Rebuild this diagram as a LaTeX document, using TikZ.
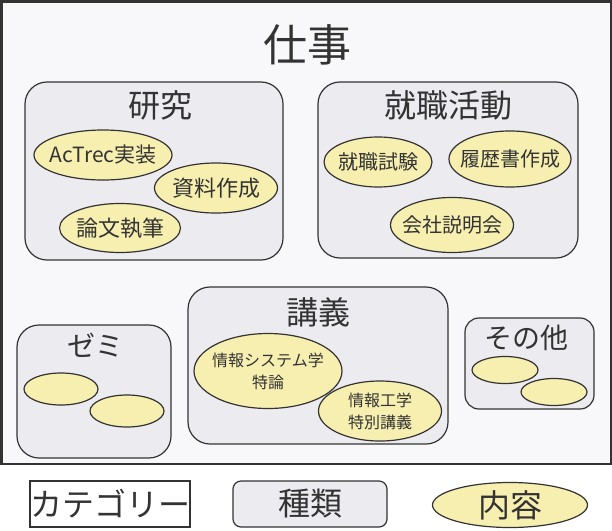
\documentclass[tikz,border=0pt]{standalone}
\usepackage{fontspec}
\setmainfont{Noto Sans CJK JP}
\usetikzlibrary{shapes.geometric}
\definecolor{ink}{HTML}{333333}
\definecolor{outerfill}{HTML}{F8F8FA}
\definecolor{boxfill}{HTML}{ECECF0}
\definecolor{ellfill}{HTML}{F7EFB0}
\tikzset{
  outerbox/.style={draw=ink, line width=2.5pt, fill=outerfill},
  kindbox/.style={draw=ink, line width=1.2pt, fill=boxfill, rounded corners=22pt},
  item/.style={ellipse, draw=ink, line width=1.2pt, fill=ellfill, inner sep=0pt},
  itemtext/.style={text=ink, inner sep=0pt, align=center},
  ttl/.style={text=ink, inner sep=0pt},
}
\begin{document}
\begin{tikzpicture}[x=1pt,y=-1pt]
\useasboundingbox (0,0) rectangle (612,530);
\fill[white] (0,0) rectangle (612,530);
% outer category box
\draw[outerbox] (1.25,1.25) rectangle (610.75,464);
\node[ttl, font=\fontsize{44}{48}\selectfont] (shigoto) at (307,45) {仕事};

% 研究
\draw[kindbox] (25,82) rectangle (283,260);
\node[ttl, font=\fontsize{32}{36}\selectfont] (kenkyu) at (160,105) {研究};
\node[item, minimum width=138pt, minimum height=50pt] (actrec) at (103,155) {};
\node[itemtext, font=\fontsize{21}{24}\selectfont] at (actrec) {AcTrec実装};
\node[item, minimum width=123pt, minimum height=50pt] (shiryo) at (216,188) {};
\node[itemtext, font=\fontsize{22}{24}\selectfont] at (shiryo) {資料作成};
\node[item, minimum width=121pt, minimum height=49pt] (ronbun) at (120,228) {};
\node[itemtext, font=\fontsize{22}{24}\selectfont] at (ronbun) {論文執筆};

% 就職活動
\draw[kindbox] (318,82) rectangle (578,258);
\node[ttl, font=\fontsize{32}{36}\selectfont] (shushoku) at (448,105) {就職活動};
\node[item, minimum width=108pt, minimum height=50pt] (shiken) at (378,162) {};
\node[itemtext, font=\fontsize{20}{24}\selectfont] at (shiken) {就職試験};
\node[item, minimum width=122pt, minimum height=56pt] (rireki) at (510,159) {};
\node[itemtext, font=\fontsize{20}{24}\selectfont] at (rireki) {履歴書作成};
\node[item, minimum width=123pt, minimum height=55pt] (setsumei) at (452,225) {};
\node[itemtext, font=\fontsize{20}{24}\selectfont] at (setsumei) {会社説明会};

% 講義
\draw[kindbox] (188,287) rectangle (448,444);
\node[ttl, font=\fontsize{32}{36}\selectfont] (kogi) at (318,312) {講義};
\node[item, minimum width=148pt, minimum height=75pt] (joho1) at (268,371) {};
\node[itemtext, font=\fontsize{16}{22}\selectfont] at (joho1) {情報システム学\\特論};
\node[item, minimum width=123pt, minimum height=60pt] (joho2) at (380,411) {};
\node[itemtext, font=\fontsize{16}{22}\selectfont] at (joho2) {情報工学\\特別講義};

% ゼミ
\draw[kindbox] (17,325) rectangle (171,458);
\node[ttl, font=\fontsize{28}{32}\selectfont] (zemi) at (95,345) {ゼミ};
\node[item, minimum width=74pt, minimum height=32pt] (z1) at (61,389) {};
\node[item, minimum width=74pt, minimum height=32pt] (z2) at (127,411) {};

% その他
\draw[kindbox, rounded corners=14pt] (465,318) rectangle (594,409);
\node[ttl, font=\fontsize{28}{32}\selectfont] (sonota) at (526,338) {その他};
\node[item, minimum width=66pt, minimum height=27pt] (s1) at (505,370) {};
\node[item, minimum width=66pt, minimum height=27pt] (s2) at (554,392) {};

% legend
\node[draw=ink, line width=1.5pt, fill=white, minimum width=154pt, minimum height=46pt, inner sep=0pt, text=ink, font=\fontsize{32}{36}\selectfont] (legcat) at (110,504) {カテゴリー};
\node[draw=ink, line width=1.2pt, fill=boxfill, rounded corners=8pt, minimum width=154pt, minimum height=46pt, inner sep=0pt, text=ink, font=\fontsize{32}{36}\selectfont] (legkind) at (310,504) {種類};
\node[item, minimum width=155pt, minimum height=45pt] (legitem) at (510,505) {};
\node[itemtext, font=\fontsize{32}{36}\selectfont] at (legitem) {内容};
\end{tikzpicture}
\end{document}
